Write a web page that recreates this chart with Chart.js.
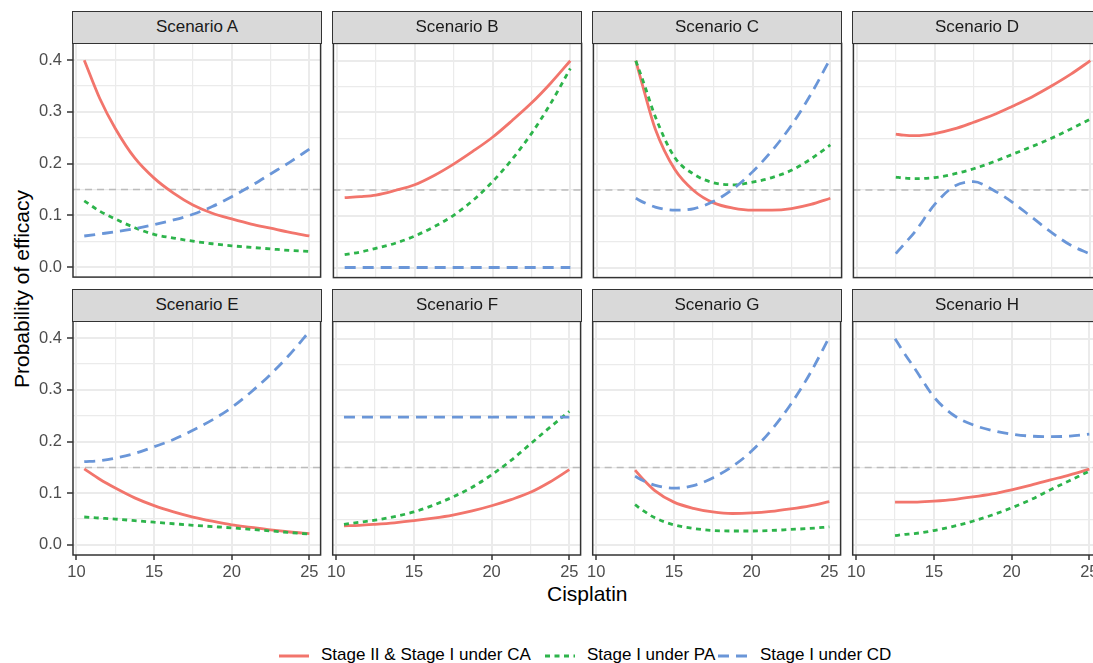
<!DOCTYPE html>
<html>
<head>
<meta charset="utf-8">
<script src="https://cdn.jsdelivr.net/npm/chart.js@4.4.1/dist/chart.umd.min.js"></script>
<style>
  body { margin: 0; background: #fff; }
  #fig { position: relative; width: 1093px; height: 663px; overflow: hidden; background: #fff;
         font-family: "Liberation Sans", Arial, sans-serif; }
  .strip { position: absolute; z-index: 2; box-sizing: border-box; background: #d9d9d9; border: 1.5px solid #333;
           color: #1a1a1a; font-size: 17px; text-align: center; line-height: 29px; }
  .wrap { position: absolute; z-index: 1; }
  .title { position: absolute; color: #000; font-size: 21px; white-space: nowrap; }
  .legend-item { position: absolute; top: 643px; font-size: 17px; color: #000; white-space: nowrap; line-height: 24px; }
  .legend-item svg { vertical-align: middle; margin-right: 12px; }
</style>
</head>
<body>
<div id="fig">
  <div class="title" style="left:547px; top:582px;">Cisplatin</div>
  <div class="title" style="left:22px; top:289px; transform: translate(-50%, -50%) rotate(-90deg);">Probability of efficacy</div>
  <div id="legend"></div>
</div>
<script>
// doses (Cisplatin)
const dosesWide = [10.5, 11.5, 12.5, 13.75, 15, 16.25, 17.5, 18.75, 20, 21.25, 22.5, 23.75, 25];
const dosesNarrow = [12.5, 13, 13.75, 15, 16.25, 17.5, 18.75, 20, 21.25, 22.5, 23.75, 25];

const scenarioNames = ["Scenario A", "Scenario B", "Scenario C", "Scenario D",
                       "Scenario E", "Scenario F", "Scenario G", "Scenario H"];
const seriesNames = ["Stage II & Stage I under CA", "Stage I under PA", "Stage I under CD"];
const targetEfficacy = 0.15;

// Scenario A
const caA = [0.400, 0.326, 0.268, 0.211, 0.172, 0.143, 0.120, 0.104, 0.093, 0.083, 0.075, 0.067, 0.060];
const paA = [0.128, 0.108, 0.093, 0.076, 0.063, 0.056, 0.050, 0.045, 0.041, 0.038, 0.035, 0.032, 0.030];
const cdA = [0.060, 0.064, 0.068, 0.074, 0.082, 0.091, 0.102, 0.117, 0.136, 0.157, 0.180, 0.203, 0.228];
// Scenario B
const caB = [0.135, 0.137, 0.140, 0.149, 0.160, 0.178, 0.200, 0.225, 0.252, 0.284, 0.318, 0.357, 0.400];
const paB = [0.025, 0.030, 0.037, 0.047, 0.061, 0.079, 0.101, 0.130, 0.166, 0.209, 0.259, 0.318, 0.385];
const cdB = [0, 0, 0, 0, 0, 0, 0, 0, 0, 0, 0, 0, 0];
// Scenario C
const caC = [0.400, 0.345, 0.268, 0.190, 0.148, 0.125, 0.115, 0.111, 0.111, 0.114, 0.122, 0.134];
const paC = [0.400, 0.358, 0.292, 0.213, 0.180, 0.164, 0.160, 0.165, 0.174, 0.188, 0.210, 0.237];
const cdC = [0.134, 0.126, 0.117, 0.111, 0.114, 0.128, 0.152, 0.185, 0.226, 0.275, 0.335, 0.404];
// Scenario D
const caD = [0.258, 0.256, 0.255, 0.259, 0.268, 0.281, 0.295, 0.312, 0.330, 0.351, 0.374, 0.400];
const paD = [0.175, 0.173, 0.172, 0.174, 0.181, 0.191, 0.204, 0.219, 0.234, 0.250, 0.268, 0.287];
const cdD = [0.027, 0.044, 0.070, 0.122, 0.157, 0.166, 0.150, 0.126, 0.097, 0.068, 0.043, 0.026];
// Scenario E
const caE = [0.147, 0.127, 0.110, 0.091, 0.076, 0.064, 0.054, 0.046, 0.039, 0.034, 0.029, 0.025, 0.022];
const paE = [0.054, 0.052, 0.050, 0.047, 0.044, 0.041, 0.038, 0.0355, 0.033, 0.030, 0.027, 0.024, 0.021];
const cdE = [0.161, 0.163, 0.168, 0.177, 0.190, 0.204, 0.222, 0.242, 0.266, 0.296, 0.330, 0.369, 0.413];
// Scenario F
const caF = [0.037, 0.038, 0.040, 0.043, 0.047, 0.052, 0.058, 0.066, 0.076, 0.088, 0.102, 0.122, 0.146];
const paF = [0.040, 0.044, 0.048, 0.055, 0.064, 0.077, 0.093, 0.112, 0.136, 0.164, 0.196, 0.228, 0.259];
const cdF = [0.248, 0.248, 0.248, 0.248, 0.248, 0.248, 0.248, 0.248, 0.248, 0.248, 0.248, 0.248, 0.248];
// Scenario G
const caG = [0.145, 0.128, 0.106, 0.083, 0.071, 0.064, 0.061, 0.062, 0.065, 0.070, 0.076, 0.084];
const paG = [0.078, 0.067, 0.053, 0.039, 0.032, 0.028, 0.027, 0.027, 0.028, 0.030, 0.032, 0.035];
const cdG = [0.133, 0.125, 0.116, 0.110, 0.115, 0.130, 0.152, 0.182, 0.222, 0.272, 0.332, 0.403];
// Scenario H
const caH = [0.083, 0.083, 0.083, 0.085, 0.088, 0.093, 0.099, 0.107, 0.116, 0.126, 0.136, 0.147];
const paH = [0.018, 0.020, 0.022, 0.028, 0.036, 0.046, 0.058, 0.072, 0.088, 0.107, 0.125, 0.143];
const cdH = [0.400, 0.376, 0.343, 0.287, 0.252, 0.233, 0.222, 0.215, 0.211, 0.210, 0.211, 0.215];

// axis ticks (major + minor grid)
const xTicks = [10, 12.5, 15, 17.5, 20, 22.5, 25];
const yTicks = [0, 0.05, 0.1, 0.15, 0.2, 0.25, 0.3, 0.35, 0.4];
const xRange = [9.775, 25.725];
const yRange = [-0.0195, 0.4335];

const panels = [
  { dose: dosesWide, ca: caA, pa: paA, cd: cdA },
  { dose: dosesWide, ca: caB, pa: paB, cd: cdB },
  { dose: dosesNarrow, ca: caC, pa: paC, cd: cdC },
  { dose: dosesNarrow, ca: caD, pa: paD, cd: cdD },
  { dose: dosesWide, ca: caE, pa: paE, cd: cdE },
  { dose: dosesWide, ca: caF, pa: paF, cd: cdF },
  { dose: dosesNarrow, ca: caG, pa: paG, cd: cdG },
  { dose: dosesNarrow, ca: caH, pa: paH, cd: cdH },
];

const RED = "#F2756C", GREEN = "#2DB44B", BLUE = "#6A96D8";
const styles = [
  { color: RED, dash: [], order: 3 },
  { color: GREEN, dash: [5, 4.5], order: 2 },
  { color: BLUE, dash: [11, 7], order: 1 },
];

const PLOT_W = 248, PLOT_H = 234;
const colLeft = [73, 333, 593, 853];
const rowTop = [43, 321];

Chart.defaults.font.family = '"Liberation Sans", Arial, sans-serif';

const isMajorX = (v) => Math.abs(v / 5 - Math.round(v / 5)) < 1e-6;
const isMajorY = (v) => Math.abs(v * 10 - Math.round(v * 10)) < 1e-6;

const thresholdLine = {
  id: "thresholdLine",
  beforeDatasetsDraw(chart) {
    const { ctx, chartArea: a, scales } = chart;
    const py = scales.y.getPixelForValue(targetEfficacy);
    ctx.save();
    ctx.strokeStyle = "rgba(185,185,185,0.95)";
    ctx.lineWidth = 1.5;
    ctx.setLineDash([7, 5]);
    ctx.beginPath();
    ctx.moveTo(a.left, py);
    ctx.lineTo(a.right, py);
    ctx.stroke();
    ctx.restore();
  },
};

const panelBorder = {
  id: "panelBorder",
  afterDraw(chart) {
    const { ctx, chartArea: a } = chart;
    ctx.save();
    ctx.strokeStyle = "#333333";
    ctx.lineWidth = 1.5;
    ctx.strokeRect(a.left, a.top, a.right - a.left, a.bottom - a.top);
    ctx.restore();
  },
};

function makeDataset(dose, values, i) {
  return {
    label: seriesNames[i],
    data: dose.map((d, k) => ({ x: d, y: values[k] })),
    borderColor: styles[i].color,
    borderDash: styles[i].dash,
    borderWidth: 2.8,
    order: styles[i].order,
    pointRadius: 0,
    fill: false,
    cubicInterpolationMode: "monotone",
  };
}

function makeChart(canvas, p, row, col) {
  const leftCol = col === 0;
  const bottomRow = row === 1;
  return new Chart(canvas, {
    type: "line",
    data: {
      datasets: [
        makeDataset(p.dose, p.ca, 0),
        makeDataset(p.dose, p.pa, 1),
        makeDataset(p.dose, p.cd, 2),
      ],
    },
    options: {
      responsive: false,
      maintainAspectRatio: false,
      animation: false,
      events: [],
      layout: { padding: 0 },
      plugins: { legend: { display: false }, tooltip: { enabled: false } },
      scales: {
        x: {
          type: "linear",
          min: xRange[0],
          max: xRange[1],
          afterBuildTicks: (scale) => { scale.ticks = xTicks.map((v) => ({ value: v })); },
          afterFit: (scale) => { scale.height = bottomRow ? 40 : 0; },
          border: { display: false },
          grid: {
            color: "#EBEBEB",
            lineWidth: (c) => (c.tick && isMajorX(c.tick.value) ? 2 : 1.2),
            drawTicks: bottomRow,
            tickLength: 5,
            tickWidth: 1.5,
            tickColor: (c) => (c.tick && isMajorX(c.tick.value) ? "#333333" : "rgba(0,0,0,0)"),
          },
          ticks: {
            display: bottomRow,
            autoSkip: false,
            maxRotation: 0,
            padding: 3,
            color: "#4D4D4D",
            font: { size: 16.5 },
            callback: (v) => (isMajorX(v) ? String(v) : ""),
          },
        },
        y: {
          min: yRange[0],
          max: yRange[1],
          afterBuildTicks: (scale) => { scale.ticks = yTicks.map((v) => ({ value: v })); },
          afterFit: (scale) => { scale.width = leftCol ? 73 : 0; },
          border: { display: false },
          grid: {
            color: "#EBEBEB",
            lineWidth: (c) => (c.tick && isMajorY(c.tick.value) ? 2 : 1.2),
            drawTicks: leftCol,
            tickLength: 6,
            tickWidth: 1.5,
            tickColor: (c) => (c.tick && isMajorY(c.tick.value) ? "#333333" : "rgba(0,0,0,0)"),
          },
          ticks: {
            display: leftCol,
            autoSkip: false,
            padding: 5,
            color: "#4D4D4D",
            font: { size: 16.5 },
            callback: (v) => (isMajorY(v) ? v.toFixed(1) : ""),
          },
        },
      },
    },
    plugins: [thresholdLine, panelBorder],
  });
}

// fit the plot area to the target box, then move the canvas so it lands there
function placePanel(chart, wrap, x, y) {
  for (let k = 0; k < 4; k++) {
    const a = chart.chartArea;
    const dw = PLOT_W - (a.right - a.left);
    const dh = PLOT_H - (a.bottom - a.top);
    if (Math.abs(dw) < 0.5 && Math.abs(dh) < 0.5) break;
    chart.resize(Math.round(chart.width + dw), Math.round(chart.height + dh));
  }
  const a = chart.chartArea;
  wrap.style.left = Math.round(x - a.left) + "px";
  wrap.style.top = Math.round(y - a.top) + "px";
}

const fig = document.getElementById("fig");

panels.forEach((p, i) => {
  const row = Math.floor(i / 4), col = i % 4;
  const x = colLeft[col], y = rowTop[row];

  const wrap = document.createElement("div");
  wrap.className = "wrap";
  const canvas = document.createElement("canvas");
  canvas.width = PLOT_W + (col === 0 ? 73 : 10);
  canvas.height = PLOT_H + (row === 1 ? 40 : 10);
  wrap.appendChild(canvas);
  fig.appendChild(wrap);

  const chart = makeChart(canvas, p, row, col);
  placePanel(chart, wrap, x, y);

  const strip = document.createElement("div");
  strip.className = "strip";
  strip.style.left = (x - 0.75) + "px";
  strip.style.top = (y - 32) + "px";
  strip.style.width = (PLOT_W + 1.5) + "px";
  strip.style.height = "32.75px";
  strip.textContent = scenarioNames[i];
  fig.appendChild(strip);
});

// legend
const legendX = [279, 545, 718];
const legend = document.getElementById("legend");
seriesNames.forEach((name, i) => {
  const item = document.createElement("div");
  item.className = "legend-item";
  item.style.left = legendX[i] + "px";
  const dash = styles[i].dash.length ? styles[i].dash.join(" ") : "none";
  item.innerHTML =
    '<svg width="30" height="10"><line x1="0" y1="5" x2="30" y2="5" stroke="' + styles[i].color +
    '" stroke-width="3" stroke-dasharray="' + dash + '"/></svg>';
  item.appendChild(document.createTextNode(name));
  legend.appendChild(item);
});
</script>
</body>
</html>
